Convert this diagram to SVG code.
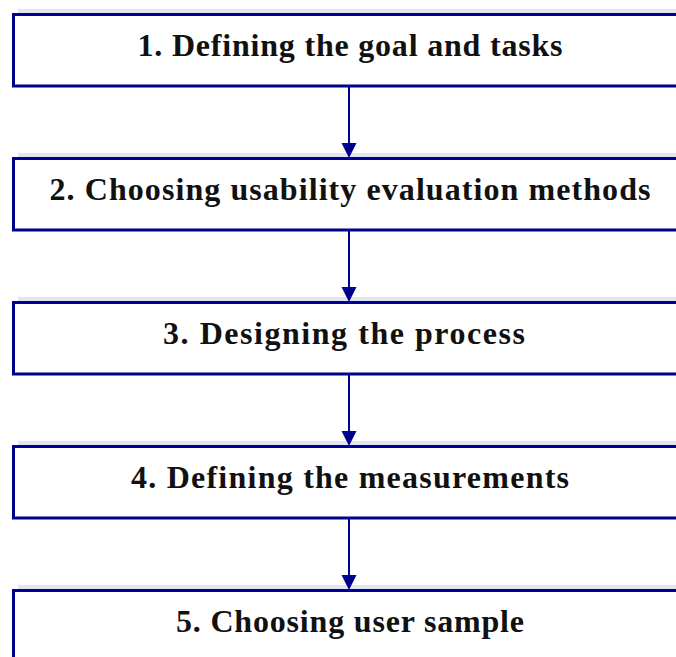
<svg xmlns="http://www.w3.org/2000/svg" width="676" height="657" viewBox="0 0 676 657">
  <defs>
    <style>
      .box { fill: #ffffff; stroke: #00008f; stroke-width: 3; }
      .shade { fill: #e4e4f8; }
      .label { font-family: "Liberation Serif", "DejaVu Serif", serif; font-weight: bold; font-size: 32px; fill: #111111; text-anchor: middle; }
      .link { stroke: #00008f; stroke-width: 2; fill: none; }
      .head { fill: #00008f; }
    </style>
  </defs>
  <rect width="676" height="657" fill="#ffffff"/>

  <g id="step1">
    <rect class="shade" x="18" y="9" width="660" height="5"/>
    <rect class="box" x="13.5" y="14.5" width="680" height="71.5"/>
    <text class="label" x="350" y="56" textLength="425" lengthAdjust="spacing">1. Defining the goal and tasks</text>
  </g>
  <g id="step2">
    <rect class="shade" x="18" y="153" width="660" height="5"/>
    <rect class="box" x="13.5" y="158.5" width="680" height="71.5"/>
    <text class="label" x="350" y="200" textLength="601" lengthAdjust="spacing">2. Choosing usability evaluation methods</text>
  </g>
  <g id="step3">
    <rect class="shade" x="18" y="297" width="660" height="5"/>
    <rect class="box" x="13.5" y="302.5" width="680" height="71.5"/>
    <text class="label" x="344" y="344" textLength="362" lengthAdjust="spacing">3. Designing the process</text>
  </g>
  <g id="step4">
    <rect class="shade" x="18" y="441" width="660" height="5"/>
    <rect class="box" x="13.5" y="446.5" width="680" height="71.5"/>
    <text class="label" x="350" y="488" textLength="438" lengthAdjust="spacing">4. Defining the measurements</text>
  </g>
  <g id="step5">
    <rect class="shade" x="18" y="585" width="660" height="5"/>
    <rect class="box" x="13.5" y="590.5" width="680" height="80"/>
    <text class="label" x="350" y="632" textLength="348" lengthAdjust="spacing">5. Choosing user sample</text>
  </g>

  <g id="connectors">
    <line class="link" x1="349" y1="87" x2="349" y2="145"/>
    <polygon class="head" points="341.5,143 356.5,143 349,158"/>
    <line class="link" x1="349" y1="231" x2="349" y2="289"/>
    <polygon class="head" points="341.5,287 356.5,287 349,302"/>
    <line class="link" x1="349" y1="375" x2="349" y2="433"/>
    <polygon class="head" points="341.5,431 356.5,431 349,446"/>
    <line class="link" x1="349" y1="519" x2="349" y2="577"/>
    <polygon class="head" points="341.5,575 356.5,575 349,590"/>
  </g>
</svg>
